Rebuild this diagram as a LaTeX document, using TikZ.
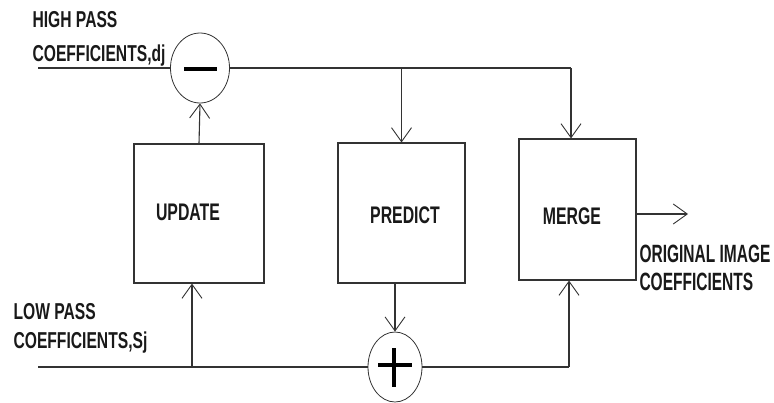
\documentclass[tikz,border=0pt]{standalone}
\usepackage{fontspec}
\usepackage{graphicx}
\setmainfont{Liberation Sans}
\usetikzlibrary{arrows.meta,shapes.geometric}
\newcommand{\condtxt}[2][0.68]{\scalebox{#1}[1]{\bfseries #2}}
\begin{document}
\begin{tikzpicture}[x=1pt,y=-1pt,
  line width=1.1pt,
  blk/.style={draw=black!80, rectangle, inner sep=0pt, line width=1.1pt},
  sumc/.style={draw=black!80, ellipse, inner sep=0pt, line width=0.8pt},
  lbl/.style={inner sep=0pt, text=black!90, font=\fontsize{23}{27}\selectfont},
  blbl/.style={inner sep=0pt, text=black!90, font=\fontsize{24}{28}\selectfont},
  rlbl/.style={inner sep=0pt, text=black!90, font=\fontsize{25}{29}\selectfont},
  arr/.style={draw=black!80, -{Straight Barb[length=14pt,width=20pt,line width=0.9pt]}},
  wire/.style={draw=black!80}]
\useasboundingbox (0,0) rectangle (774,402);

% blocks
\node[blk, minimum width=130pt, minimum height=139pt] (upd) at (199,213.5) {};
\node[blk, minimum width=127pt, minimum height=140pt] (pred) at (401.5,213) {};
\node[blk, minimum width=117pt, minimum height=141pt] (merge) at (577.5,209.5) {};
\node[blbl] (updl) at (188,212) {\condtxt[0.66]{UPDATE}};
\node[blbl] (predl) at (405,215) {\condtxt[0.66]{PREDICT}};
\node[blbl] (mergel) at (572,216) {\condtxt[0.66]{MERGE}};

% summing junctions
\node[sumc, minimum width=59pt, minimum height=70pt] (minus) at (200,68) {};
\node[sumc, minimum width=54pt, minimum height=70pt] (plus) at (395,367) {};
\draw[line width=4pt, black] (184,69) -- (217,69);
\draw[line width=4pt, black] (378,365) -- (412,365);
\draw[line width=4pt, black] (394,348) -- (394,387);

% free ends and corners
\coordinate (hin) at (38,68);
\coordinate (lin) at (38,367);
\coordinate (mtop) at (571,68);
\coordinate (mbot) at (569,367);
\coordinate (ubot) at (192,367);
\coordinate (out) at (688,214);

% top path
\draw[wire] (hin) -- (minus.west);
\draw[wire] (minus.east) -- (mtop);
\draw[arr] (mtop) -- (mtop |- merge.north);
\draw[arr] (pred.north |- mtop) -- (pred.north);
\draw[arr] (upd.north) -- (minus.south);

% bottom path
\draw[wire] (lin) -- (plus.west);
\draw[wire] (plus.east) -- (mbot);
\draw[arr] (mbot) -- (mbot |- merge.south);
\draw[arr] (ubot) -- (ubot |- upd.south);
\draw[arr] (plus.north |- pred.south) -- (plus.north);

% output
\draw[arr] (merge.east |- out) -- (out);

% labels
\node[lbl, anchor=base west] (hp1) at (32,27) {\condtxt{HIGH PASS}};
\node[lbl, anchor=base west] (hp2) at (32,61) {\condtxt{COEFFICIENTS,dj}};
\node[lbl, anchor=base west] (lp1) at (13,319) {\condtxt{LOW PASS}};
\node[lbl, anchor=base west] (lp2) at (13,348) {\condtxt{COEFFICIENTS,Sj}};
\node[rlbl, anchor=base west] (oi1) at (639,262) {\condtxt[0.62]{ORIGINAL IMAGE}};
\node[rlbl, anchor=base west] (oi2) at (639,290) {\condtxt[0.62]{COEFFICIENTS}};
\end{tikzpicture}
\end{document}
